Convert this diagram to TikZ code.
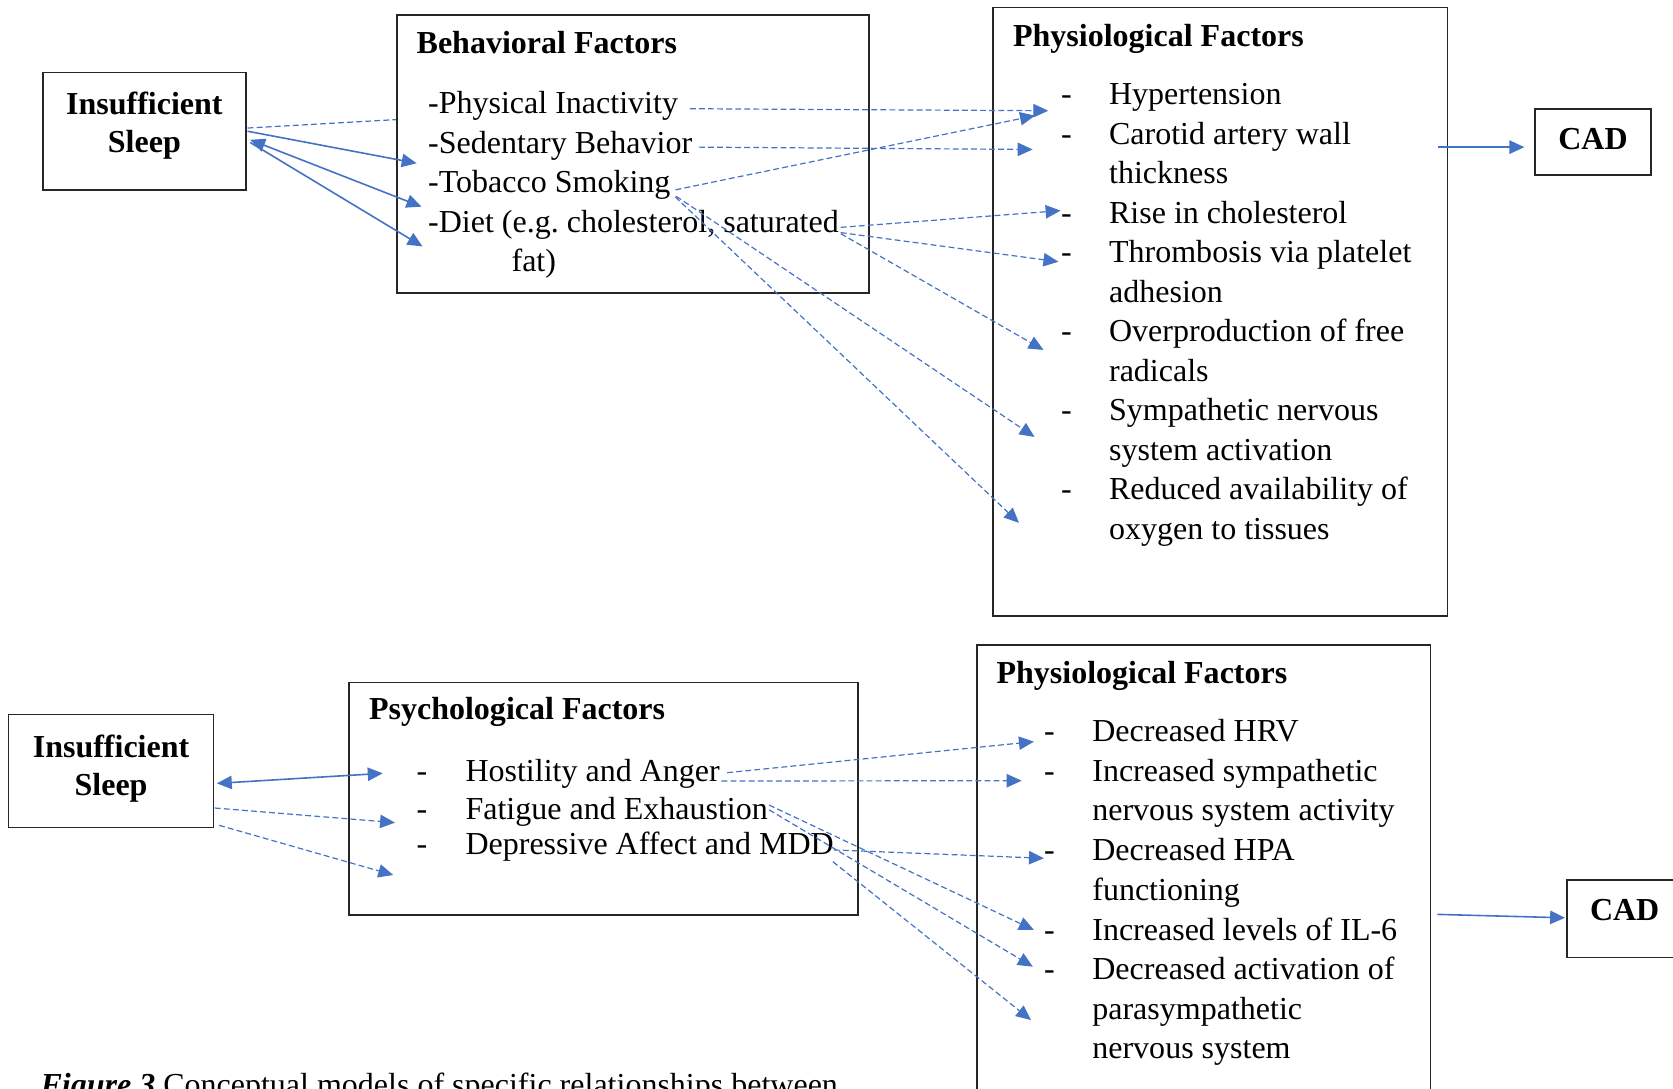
\documentclass[tikz,border=0pt]{standalone}
\usepackage{fontspec}
\setmainfont{Liberation Serif}
\usepackage{tikz}
\usetikzlibrary{arrows.meta,calc}
\definecolor{linkblue}{HTML}{4472C4}
\definecolor{boxline}{HTML}{262626}
\tikzset{
  factorbox/.style={
    rectangle, draw=boxline, line width=0.6pt,
    anchor=north west, inner sep=0pt
  },
  sleepbox/.style={
    rectangle, draw=boxline, line width=0.6pt, inner sep=0pt,
    align=center, font=\fontsize{12}{14.4}\selectfont\bfseries
  },
  cadbox/.style={
    rectangle, draw=boxline, line width=0.6pt, inner sep=0pt,
    minimum width=43.3pt, font=\fontsize{12}{14.4}\selectfont\bfseries
  },
  headtext/.style={anchor=base west, inner sep=0pt, font=\fontsize{12}{14.8}\selectfont\bfseries},
  itemtext/.style={anchor=base west, inner sep=0pt},
  listtext/.style={itemtext, text width=124pt, align=flush left},
  solidlink/.style={color=linkblue, line width=0.6pt, -{Triangle[length=5.6pt,width=5pt]}},
  dashlink/.style={solidlink, line width=0.45pt, dash pattern=on 2.2pt off 1.2pt}
}

\begin{document}
\begin{tikzpicture}[x=0.4pt, y=-0.4pt, font=\fontsize{12}{14.8}\selectfont]
\useasboundingbox (0,0) rectangle (1568,1020);
\clip (0,0) rectangle (1568,1020);

% upper model: sleep -> behavioral -> physiological -> CAD
\node[sleepbox, minimum width=76pt, minimum height=44.1pt] (sleepA) at (135.3,123) {Insufficient\\Sleep\rule[-6.6pt]{0pt}{0pt}};

\node[factorbox, minimum width=177.1pt, minimum height=104.4pt] (behav) at (371.2,13.1) {};
\node[headtext] (behavHead) at (390,50) {Behavioral Factors};
\node[itemtext] (inact)   at (400.8,106.5) {-Physical Inactivity};
\node[itemtext] (sedent)  at (400.8,143.5) {-Sedentary Behavior};
\node[itemtext] (tobacco) at (400.8,180.5) {-Tobacco Smoking};
\node[itemtext] (diet)    at (400.8,217.5) {-Diet (e.g.\ cholesterol, saturated};
\node[itemtext] (dietFat) at (479,254.5) {fat)};

\node[factorbox, minimum width=170.4pt, minimum height=228pt] (physA) at (930,6.3) {};
\node[headtext] (physAHead) at (949,43.7) {Physiological Factors};
\node[itemtext] (hyperDash)   at (994,98.4)  {-};
\node[itemtext] (carotidDash) at (994,135.4) {-};
\node[itemtext] (cholDash)    at (994,209.4) {-};
\node[itemtext] (thrombDash)  at (994,246.4) {-};
\node[itemtext] (radicDash)   at (994,320.4) {-};
\node[itemtext] (sympADash)   at (994,394.4) {-};
\node[itemtext] (oxyDash)     at (994,468.4) {-};
\node[listtext] (hyper)   at (1039,98.4)  {Hypertension};
\node[listtext] (carotid) at (1039,135.4) {Carotid artery wall\\thickness};
\node[listtext] (chol)    at (1039,209.4) {Rise in cholesterol};
\node[listtext] (thromb)  at (1039,246.4) {Thrombosis via platelet\\adhesion};
\node[listtext] (radic)   at (1039,320.4) {Overproduction of free\\radicals};
\node[listtext] (sympA)   at (1039,394.4) {Sympathetic nervous\\system activation};
\node[listtext] (oxy)     at (1039,468.4) {Reduced availability of\\oxygen to tissues};

\node[cadbox, minimum height=24.8pt, text depth=2.2pt] (cadA) at (1493,132.9) {CAD};

\draw[dashlink, -] ($(sleepA.east)+(1,-3)$) -- ($(behav.north west)+(0,99)$);
\draw[solidlink] ($(sleepA.east)+(1,0)$) -- ($(sedent.base west)+(-10.3,9.5)$);
\draw[solidlink, {Triangle[length=5.6pt,width=5pt]}-{Triangle[length=5.6pt,width=5pt]}]
  ($(sleepA.east)+(3.4,8)$) -- ($(tobacco.base west)+(-5.8,13.2)$);
\draw[solidlink] ($(sleepA.east)+(3.4,10.5)$) -- ($(diet.base west)+(-4.8,13.5)$);

\draw[dashlink] ($(inact.base east)+(10.7,-4.6)$) -- ($(hyperDash.base west)+(-11.5,5.4)$);
\draw[dashlink] ($(sedent.base east)+(5.8,-5.6)$) -- ($(carotidDash.base west)+(-26.2,4.7)$);
\draw[dashlink] ($(tobacco.base east)+(4.3,-2.6)$) -- ($(hyperDash.base west)+(-24,10)$);
\draw[dashlink] ($(tobacco.base east)+(5,3.5)$) -- ($(sympADash.base west)+(-24.4,15.1)$);
\draw[dashlink] ($(tobacco.base east)+(4,4)$) -- ($(oxyDash.base west)+(-39,21.6)$);
\draw[dashlink] ($(diet.base east)+(1.3,-4.4)$) -- ($(cholDash.base west)+(0,-12)$);
\draw[dashlink] ($(diet.base east)+(1.3,0.5)$) -- ($(thrombDash.base west)+(-2,-1.1)$);
\draw[dashlink] ($(diet.base east)+(1.3,1.5)$) -- ($(radicDash.base west)+(-16,7.6)$);

\draw[solidlink] ($(physA.north east)+(-10,131.6)$) -- ($(cadA.west)+(-9.4,5)$);

% lower model: sleep -> psychological -> physiological -> CAD
\node[sleepbox, minimum width=76.8pt, minimum height=42.4pt] (sleepB) at (104.1,722.5) {Insufficient\\Sleep\rule[-4.2pt]{0pt}{0pt}};

\node[factorbox, minimum width=190.7pt, minimum height=87.2pt] (psych) at (326.5,638.9) {};
\node[headtext] (psychHead) at (345.4,674.8) {Psychological Factors};
\node[itemtext] (hostilDash)  at (390,732.6) {-};
\node[itemtext] (fatigueDash) at (390,767.6) {-};
\node[itemtext] (mddDash)     at (390,801.3) {-};
\node[itemtext] (hostil)  at (435.8,732.6) {Hostility and Anger};
\node[itemtext] (fatigue) at (435.8,767.6) {Fatigue and Exhaustion};
\node[itemtext] (mdd)     at (435.8,801.3) {Depressive Affect and MDD};

\node[factorbox, minimum width=170.1pt, minimum height=174.4pt] (physB) at (914.7,603.9) {};
\node[headtext] (physBHead) at (933.5,640.5) {Physiological Factors};
\node[itemtext] (hrvDash)   at (978.2,695.2) {-};
\node[itemtext] (sympBDash) at (978.2,732.4) {-};
\node[itemtext] (hpaDash)   at (978.2,806.8) {-};
\node[itemtext] (ilDash)    at (978.2,881.2) {-};
\node[itemtext] (paraDash)  at (978.2,918.4) {-};
\node[listtext] (hrv)   at (1023.3,695.2) {Decreased HRV};
\node[listtext] (sympB) at (1023.3,732.4) {Increased sympathetic\\nervous system activity};
\node[listtext] (hpa)   at (1023.3,806.8) {Decreased HPA\\functioning};
\node[listtext] (il)    at (1023.3,881.2) {Increased levels of IL-6};
\node[listtext] (para)  at (1023.3,918.4) {Decreased activation of\\parasympathetic\\nervous system};

\node[cadbox, minimum height=29.1pt, text depth=7pt] (cadB) at (1522.7,861.2) {CAD};

\draw[solidlink, {Triangle[length=5.6pt,width=5pt]}-{Triangle[length=5.6pt,width=5pt]}]
  ($(sleepB.east)+(2.4,11.7)$) -- ($(hostilDash.base west)+(-31.3,-7.8)$);
\draw[dashlink] ($(sleepB.east)+(0.5,34.8)$) -- ($(fatigueDash.base west)+(-19.8,3.4)$);
\draw[dashlink] ($(sleepB.east)+(4.5,51)$) -- ($(mddDash.base west)+(-21.4,18.8)$);

\draw[dashlink] ($(hostil.base east)+(6.5,-8.4)$) -- ($(hrvDash.base west)+(-9.2,-0.1)$);
\draw[dashlink] ($(hostil.base east)+(1.1,-0.6)$) -- ($(sympBDash.base west)+(-20.7,-0.7)$);
\draw[dashlink] ($(fatigue.base east)+(0.7,-13.1)$) -- ($(ilDash.base west)+(-9.2,-9.6)$);
\draw[dashlink] ($(fatigue.base east)+(0.7,-8.6)$) -- ($(paraDash.base west)+(-10.2,-12.4)$);
\draw[dashlink] ($(mdd.base east)+(-0.5,-4.7)$) -- ($(hpaDash.base west)+(0.2,-2.4)$);
\draw[dashlink] ($(mdd.base east)+(-1.4,6.3)$) -- ($(paraDash.base west)+(-11.9,37.6)$);

\draw[solidlink] ($(physB.north east)+(5.7,253.1)$) -- ($(cadB.west)+(-1,-1)$);

\node[itemtext] (caption) at (37.5,1027) {\textbf{\textit{Figure 3}} Conceptual models of specific relationships between};
\end{tikzpicture}
\end{document}
